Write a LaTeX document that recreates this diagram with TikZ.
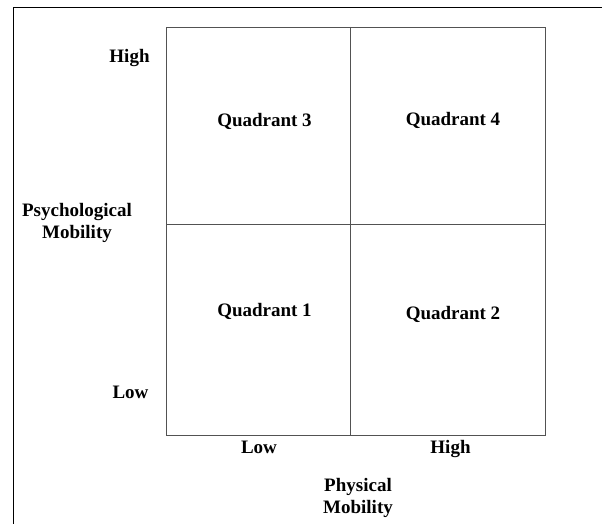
\documentclass[tikz,border=0pt]{standalone}
\usepackage{fontspec}
\setmainfont{Liberation Serif}
\begin{document}
\begin{tikzpicture}[x=1pt,y=-1pt,
  frame/.style={line width=1.4pt,draw=black},
  gridline/.style={line width=0.9pt,draw=black!68},
  lbl/.style={font=\fontsize{19}{22}\selectfont\bfseries,inner sep=0pt,anchor=base,align=center}]
\useasboundingbox (0,0) rectangle (602,524);
% outer frame (left and top edges)
\coordinate (fbl) at (13.3,524);
\coordinate (ftl) at (13.3,7.7);
\coordinate (ftr) at (602,7.7);
\draw[frame] (fbl) -- (ftl) -- (ftr);
% two-by-two grid
\coordinate (gtl) at (166.5,27);
\coordinate (gbr) at (545,435);
\coordinate (mt) at (350,27);
\coordinate (mb) at (350,435);
\coordinate (ml) at (166.5,224);
\coordinate (mr) at (545,224);
\draw[gridline] (gtl) rectangle (gbr);
\draw[gridline] (mt) -- (mb);
\draw[gridline] (ml) -- (mr);
% quadrant labels
\node[lbl] (q3) at (264.5,127) {Quadrant 3};
\node[lbl] (q4) at (453,126) {Quadrant 4};
\node[lbl] (q1) at (264.5,316) {Quadrant 1};
\node[lbl] (q2) at (453,319) {Quadrant 2};
% vertical axis (two-line titles sit on the baseline of their last line)
\node[lbl] (yhigh) at (129.5,62.5) {High};
\node[lbl] (ylow) at (130.5,398) {Low};
\node[lbl] (ytitle) at (77,238.5) {Psychological\\Mobility};
% horizontal axis
\node[lbl] (xlow) at (259,453) {Low};
\node[lbl] (xhigh) at (450.5,453) {High};
\node[lbl] (xtitle) at (358,513.5) {Physical\\Mobility};
\end{tikzpicture}
\end{document}
